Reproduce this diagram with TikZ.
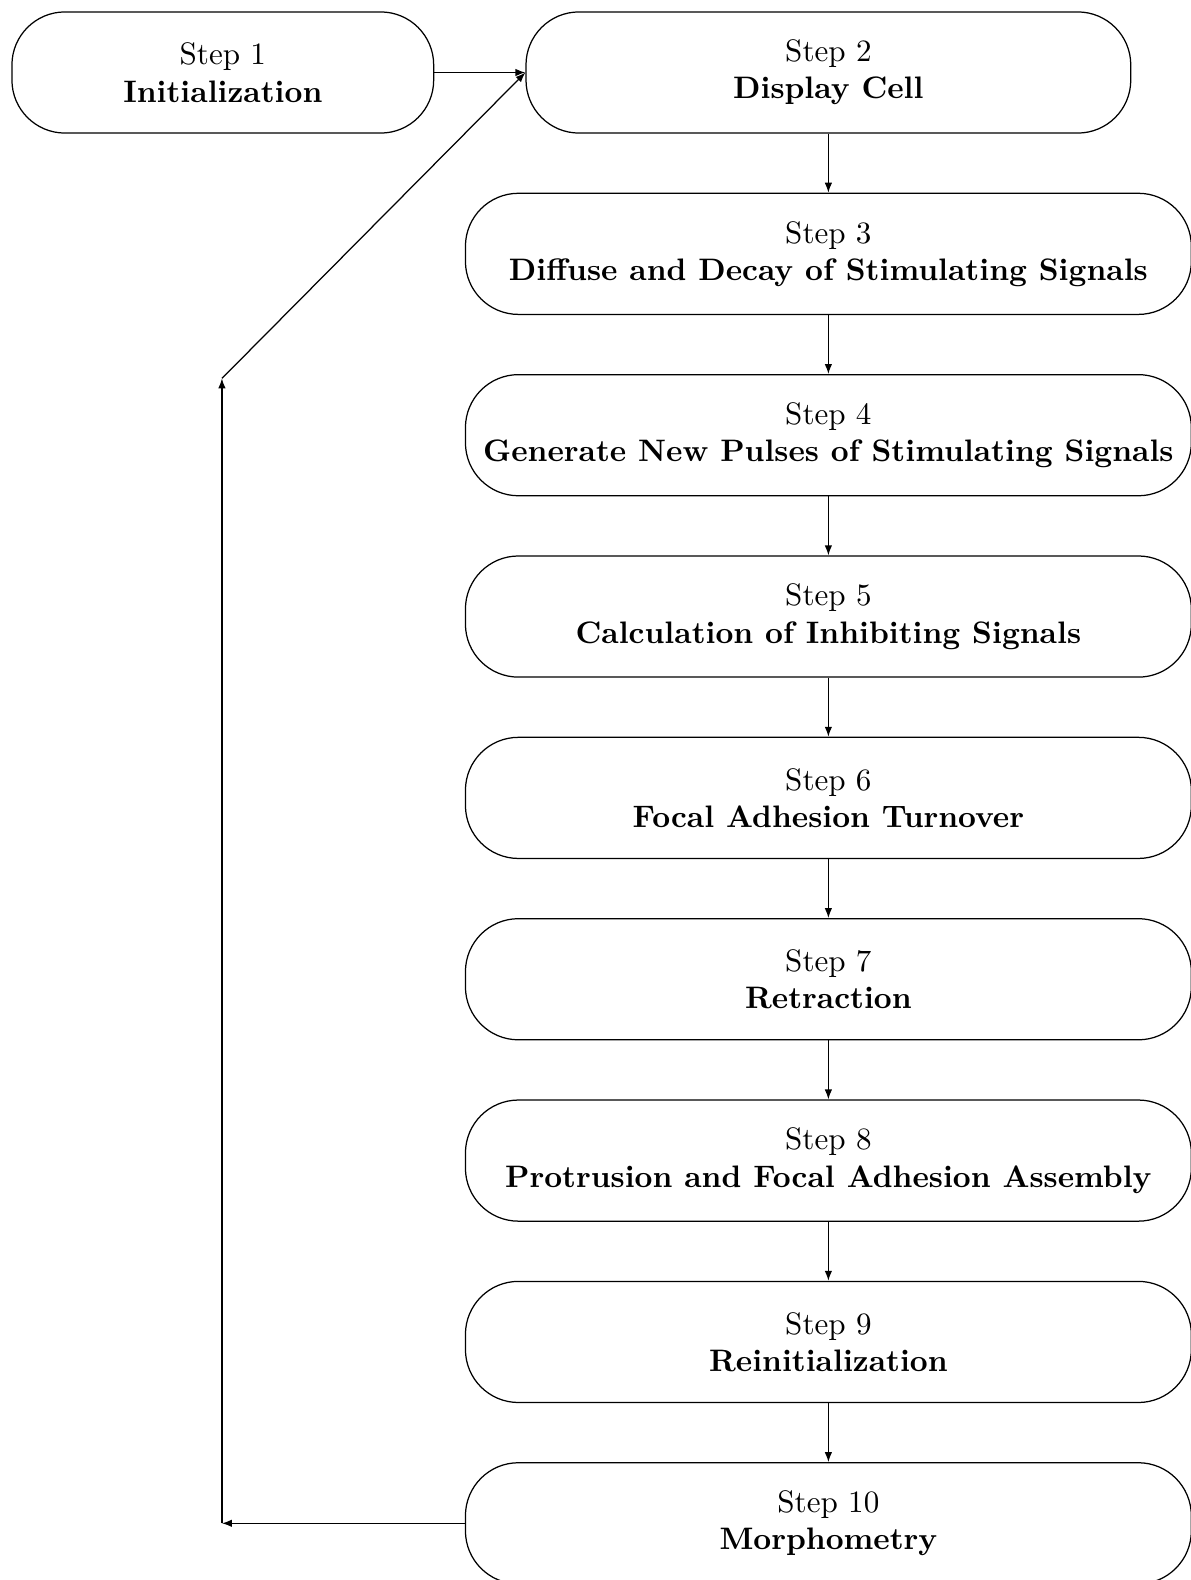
\documentclass[tikz,border=0pt]{standalone}
\usepackage{tikz}
\usetikzlibrary{positioning,arrows.meta}

\begin{document}
\begin{tikzpicture}[
    stepbox/.style={rectangle, draw, rounded corners=0.6cm, minimum height=1.37cm,
                    align=center, inner sep=0pt},
    wide/.style={stepbox, minimum width=8.21cm},
    arrow/.style={-{Latex[length=3.2pt,width=2.4pt]}}
  ]
  \useasboundingbox (0,0) rectangle (13.47,-17.87);

  % ----- Top row -----
  \node[stepbox, minimum width=4.77cm] (s1) at (2.52,-0.82) {Step 1\\\textbf{Initialization}};
  \node[stepbox, minimum width=6.84cm, right=1.03cm of s1] (s2) {Step 2\\\textbf{Display Cell}};
  \draw[arrow] (s1.east) -- (s2.west);

  % ----- Main column -----
  \node[wide, below=0.667cm of s2] (s3)  {Step 3\\\textbf{Diffuse and Decay of Stimulating Signals}};
  \node[wide, below=0.667cm of s3] (s4)  {Step 4\\\textbf{Generate New Pulses of Stimulating Signals}};
  \node[wide, below=0.667cm of s4] (s5)  {Step 5\\\textbf{Calculation of Inhibiting Signals}};
  \node[wide, below=0.667cm of s5] (s6)  {Step 6\\\textbf{Focal Adhesion Turnover}};
  \node[wide, below=0.667cm of s6] (s7)  {Step 7\\\textbf{Retraction}};
  \node[wide, below=0.667cm of s7] (s8)  {Step 8\\\textbf{Protrusion and Focal Adhesion Assembly}};
  \node[wide, below=0.667cm of s8] (s9)  {Step 9\\\textbf{Reinitialization}};
  \node[wide, below=0.667cm of s9] (s10) {Step 10\\\textbf{Morphometry}};
  \draw[arrow] (s2.south) -- (s3.north);
  \draw[arrow] (s3.south) -- (s4.north);
  \draw[arrow] (s4.south) -- (s5.north);
  \draw[arrow] (s5.south) -- (s6.north);
  \draw[arrow] (s6.south) -- (s7.north);
  \draw[arrow] (s7.south) -- (s8.north);
  \draw[arrow] (s8.south) -- (s9.north);
  \draw[arrow] (s9.south) -- (s10.north);

  % ----- Feedback loop -----
  \coordinate (turn) at (2.51,-4.28);
  \coordinate (low)  at (turn |- s10.west);
  \draw[arrow] (s10.west) -- (low);
  \draw[arrow] (low) -- (turn);
  \draw[arrow] (turn) -- (s2.west);
\end{tikzpicture}
\end{document}
